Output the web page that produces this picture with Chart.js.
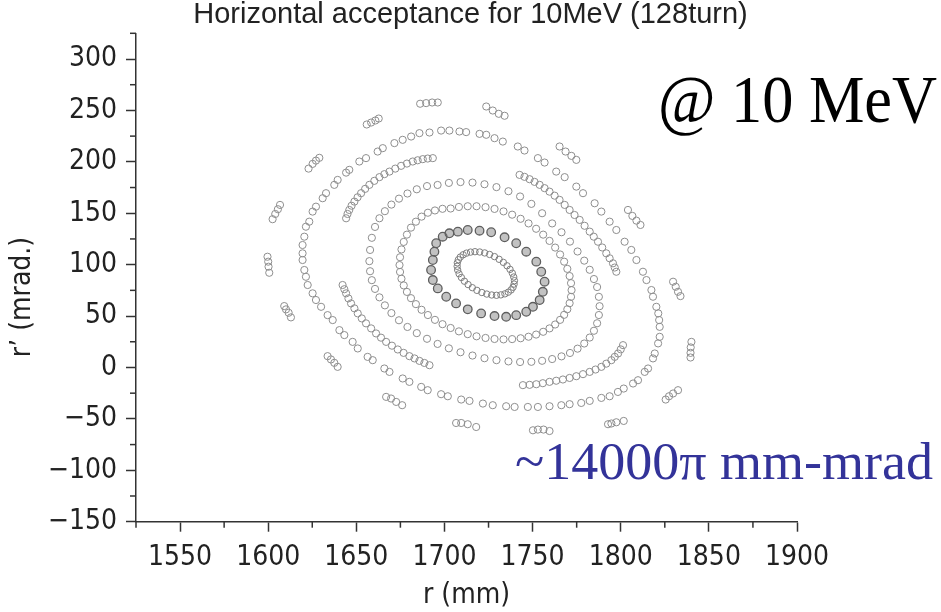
<!DOCTYPE html>
<html>
<head>
<meta charset="utf-8">
<title>Horizontal acceptance for 10MeV</title>
<script src="https://cdn.jsdelivr.net/npm/chart.js@4.4.1/dist/chart.umd.min.js"></script>
<style>
  html, body { margin: 0; padding: 0; background: #fff; }
  canvas { display: block; }
</style>
</head>
<body>
<canvas id="acceptance" width="941" height="612"></canvas>
<script>
// phase-space points: [r (mm), r' (mrad)]
const innerRing = [
  [1739.3,88.0],[1738.5,91.7],[1737.2,95.4],[1735.5,98.9],[1733.4,102.2],[1731.0,105.2],
  [1728.4,107.8],[1725.6,109.9],[1722.8,111.4],[1720.0,112.3],[1717.3,112.6],[1714.8,112.2],
  [1712.5,111.2],[1710.6,109.6],[1709.0,107.4],[1707.9,104.8],[1707.3,101.8],[1707.2,98.4],
  [1707.5,94.8],[1708.3,91.1],[1709.6,87.5],[1711.3,83.9],[1713.4,80.6],[1715.8,77.6],
  [1718.4,75.0],[1721.2,72.9],[1724.0,71.4],[1726.8,70.5],[1729.5,70.2],[1732.0,70.6],
  [1734.3,71.6],[1736.2,73.2],[1737.8,75.4],[1738.9,78.0],[1739.5,81.1],[1739.7,84.4]
];

const secondRing = [
  [1695.3,120.8],[1699.0,127.2],[1702.8,130.5],[1707.6,132.1],[1713.2,133.7],[1719.9,133.0],
  [1726.5,131.5],[1734.1,126.6],[1740.7,120.8],[1746.4,112.6],[1752.1,102.9],[1754.9,93.1],
  [1756.8,83.4],[1755.8,73.6],[1754.0,65.5],[1750.2,59.0],[1746.4,54.2],[1740.7,50.9],
  [1735.0,49.3],[1728.4,50.0],[1720.8,52.6],[1713.2,56.5],[1706.6,62.3],[1701.0,68.8],
  [1696.2,76.9],[1693.4,85.0],[1692.4,94.8],[1693.4,104.5],[1694.3,112.6]
];

const thirdRing = [
  [1772.1,75.2],[1771.8,82.0],[1771.0,88.9],[1769.7,95.9],[1767.9,102.9],[1765.6,109.9],
  [1762.8,116.6],[1759.6,123.1],[1756.0,129.2],[1752.0,134.9],[1747.7,140.1],[1743.2,144.6],
  [1738.4,148.6],[1733.5,151.8],[1728.4,154.2],[1723.3,155.9],[1718.2,156.8],[1713.2,156.8],
  [1708.2,156.1],[1703.5,154.6],[1698.9,154.3],[1694.6,152.7],[1690.6,150.5],[1687.0,146.7],
  [1683.8,141.8],[1681.0,136.0],[1678.7,129.2],[1676.9,122.1],[1675.6,114.8],[1674.8,107.2],
  [1674.5,99.6],[1674.8,92.9],[1675.6,86.3],[1676.9,79.8],[1678.7,73.5],[1681.0,67.4],
  [1683.8,61.6],[1687.0,56.1],[1690.6,51.0],[1694.6,46.3],[1698.9,42.1],[1703.5,38.4],
  [1708.2,35.1],[1713.2,32.4],[1718.2,30.3],[1723.3,28.7],[1728.4,27.7],[1733.5,27.3],
  [1738.4,27.6],[1743.2,28.4],[1747.7,29.9],[1752.0,32.0],[1756.0,34.7],[1759.6,38.0],
  [1762.8,41.8],[1765.6,46.3],[1767.9,51.2],[1769.7,56.6],[1771.0,62.5],[1771.8,68.7]
];

const fourthRing = [
  [1788.0,59.6],[1787.6,68.7],[1786.6,78.2],[1784.8,86.0],[1782.4,95.0],[1779.3,103.9],
  [1775.5,112.8],[1771.2,122.4],[1766.4,131.5],[1761.1,140.1],[1755.4,150.0],[1749.3,159.1],
  [1742.9,166.3],[1736.3,171.4],[1729.5,175.4],[1722.7,178.2],[1715.9,179.8],[1709.1,180.3],
  [1702.5,179.5],[1696.1,177.5],[1690.1,176.4],[1684.3,173.3],[1679.0,169.2],[1674.2,164.2],
  [1669.9,158.4],[1666.2,152.0],[1663.1,145.1],[1660.6,136.7],[1658.8,126.1],[1657.8,114.3],
  [1657.4,103.4],[1657.8,93.6],[1658.8,84.9],[1660.6,76.4],[1663.1,68.2],[1666.2,60.4],
  [1669.9,52.9],[1674.2,45.9],[1679.0,39.4],[1684.3,33.4],[1690.1,27.9],[1696.1,22.9],
  [1702.5,18.6],[1709.1,14.8],[1715.9,11.6],[1722.7,9.0],[1729.5,7.1],[1736.3,5.9],
  [1742.9,5.3],[1749.3,5.5],[1755.4,6.5],[1761.1,8.2],[1766.4,10.8],[1771.2,14.1],
  [1775.5,18.3],[1779.3,23.3],[1782.4,29.1],[1784.8,35.7],[1786.6,43.0],[1787.6,51.0]
];

// the four dense arcs of the fifth ring
const arcUpperLeft = [
  [1644.2,145.1],[1645.0,149.3],[1646.0,153.2],[1647.3,157.3],[1648.9,161.3],[1650.7,165.5],
  [1652.7,169.5],[1655.0,173.7],[1657.4,177.6],[1660.2,181.5],[1663.1,185.1],[1665.9,188.0],
  [1668.8,190.5],[1672.1,193.4],[1675.4,196.1],[1678.7,198.3],[1682.0,200.3],[1684.8,201.5],
  [1687.7,202.6],[1690.5,203.2],[1693.4,203.6]
];
const arcUpperRight = [
  [1742.6,187.3],[1745.4,185.4],[1748.3,183.1],[1751.1,180.5],[1754.0,177.6],[1756.8,174.4],
  [1759.6,171.0],[1762.5,167.1],[1765.3,163.0],[1768.2,158.1],[1771.0,153.2],[1773.8,148.3],
  [1776.7,143.5],[1779.5,137.8],[1782.4,132.1],[1784.7,127.2],[1787.1,122.3],[1789.5,116.7],
  [1791.8,111.0],[1793.7,106.2],[1795.6,101.3],[1796.6,97.2],[1797.5,93.1]
];
const arcLowerLeft = [
  [1642.2,80.2],[1643.2,76.1],[1644.2,72.1],[1645.5,67.2],[1647.0,62.3],[1648.9,57.5],
  [1650.8,52.6],[1653.1,47.7],[1655.5,42.9],[1658.4,38.0],[1661.2,33.1],[1664.0,29.0],
  [1666.9,24.9],[1670.2,21.2],[1673.5,17.5],[1676.8,14.2],[1680.1,11.0],[1683.0,8.8],
  [1685.8,6.4],[1688.6,4.4],[1691.5,2.2]
];
const arcLowerRight = [
  [1744.5,-17.2],[1748.3,-16.9],[1752.1,-16.3],[1755.8,-15.3],[1759.6,-14.0],[1763.4,-12.9],
  [1767.2,-11.7],[1771.0,-10.2],[1774.8,-8.5],[1778.6,-6.5],[1782.4,-4.3],[1785.7,-2.0],
  [1789.0,0.6],[1791.8,3.7],[1794.7,7.1],[1796.6,10.3],[1798.5,13.6],[1800.0,17.6],
  [1801.3,21.7]
];

const outerRing = [
  [1723.7,226.3],[1719.9,227.2],[1712.3,228.9],[1708.5,229.5],[1702.8,230.4],[1698.1,230.4],
  [1691.5,228.5],[1685.8,227.9],[1681.1,224.6],[1676.3,221.4],[1671.6,218.2],[1665.0,213.3],
  [1662.1,210.0],[1655.5,203.6],[1651.7,200.3],[1646.0,192.2],[1644.2,189.5],[1639.4,182.4],
  [1637.5,177.6],[1632.8,169.5],[1630.9,164.6],[1627.1,156.4],[1625.2,151.6],[1623.3,141.8],
  [1621.4,136.9],[1620.5,127.2],[1619.5,119.1],[1619.5,111.0],[1619.5,104.5],[1620.5,94.8],
  [1621.4,88.2],[1622.4,80.2],[1625.2,72.1],[1627.1,65.6],[1630.0,59.0],[1633.7,50.9],
  [1636.6,46.1],[1640.4,36.3],[1643.2,31.5],[1647.9,24.9],[1650.8,18.5],[1656.4,10.3],
  [1659.3,7.1],[1665.9,-1.0],[1668.8,-4.3],[1676.3,-10.7],[1680.1,-14.0],[1686.8,-18.9],
  [1690.5,-22.1],[1698.1,-26.0],[1701.9,-28.0],[1709.5,-31.2],[1714.2,-32.5],[1721.8,-35.1],
  [1727.4,-36.7],[1735.0,-37.7],[1739.8,-38.4],[1747.3,-38.4],[1753.0,-38.4],[1759.6,-37.7],
  [1766.3,-36.7],[1771.0,-35.7],[1777.6,-34.5],[1782.4,-32.5],[1789.0,-29.6],[1793.7,-28.0],
  [1798.4,-23.8],[1801.7,-20.5],[1807.0,-15.6],[1809.8,-12.4],[1813.6,-4.3],[1815.5,-1.0],
  [1818.3,8.8],[1819.3,13.6],[1821.2,23.4],[1822.1,29.8],[1822.1,39.5],[1821.8,46.1],
  [1821.3,52.6],[1820.2,59.0],[1818.3,68.8],[1817.4,75.3],[1814.6,85.0],[1812.6,93.1],
  [1808.9,104.5],[1806.0,114.3],[1802.2,122.3],[1797.5,133.7],[1793.7,141.8],[1789.0,151.6],
  [1785.2,159.7],[1778.6,169.5],[1774.8,175.9],[1768.2,185.1],[1763.4,190.5],[1756.8,199.3],
  [1753.0,203.6],[1745.4,211.0],[1741.6,214.9],[1733.1,219.7],[1728.4,223.0]
];

// islands outside the last closed ring
const islands = [
  [1686.2,256.5],[1689.6,257.1],[1693.0,257.7],[1696.2,257.7],
  [1655.9,236.3],[1658.4,238.2],[1660.8,240.2],[1662.7,242.1],
  [1622.9,193.4],[1625.2,198.0],[1627.1,201.2],[1629.0,203.9],
  [1602.5,144.2],[1604.0,149.3],[1605.5,153.9],[1606.7,158.1],
  [1599.6,107.7],[1600.0,102.9],[1600.2,98.0],[1600.6,92.1],
  [1609.1,59.7],[1610.1,56.5],[1611.6,53.2],[1612.9,48.7],
  [1633.7,11.0],[1635.6,7.8],[1637.5,4.5],[1639.4,0.6],
  [1666.9,-28.6],[1669.7,-30.2],[1672.6,-33.5],[1676.0,-36.7],
  [1706.6,-54.0],[1709.5,-54.0],[1713.2,-55.2],[1718.0,-57.9],
  [1750.2,-61.1],[1753.0,-60.4],[1756.2,-60.4],[1759.6,-61.8],
  [1792.8,-55.2],[1794.7,-54.5],[1797.5,-53.3],[1801.7,-52.0],
  [1825.5,-31.2],[1827.4,-28.0],[1829.7,-25.3],[1832.5,-22.1],
  [1839.6,9.7],[1839.6,14.2],[1839.7,19.5],[1840.1,24.9],
  [1829.7,83.4],[1831.2,78.5],[1832.5,73.6],[1833.9,69.4],
  [1804.1,153.2],[1806.6,147.4],[1808.9,142.8],[1811.2,138.6],
  [1765.3,214.9],[1768.7,210.0],[1772.0,205.8],[1774.8,201.9],
  [1723.7,253.8],[1727.4,249.9],[1730.8,246.7],[1734.1,244.8]
];

const xLimits = [1525, 1900];
const yLimits = [-150, 325];
const tickStep = 25;
const labelStep = 50;

const narrowFont = '"Liberation Sans Narrow", "DejaVu Sans Condensed", "Arial Narrow", sans-serif';
const ringColor = '#8e8e8e';

function toPoints(list) {
  return list.map(p => ({ x: p[0], y: p[1] }));
}

function ringSet(label, list, extra) {
  return Object.assign({
    label: label,
    data: toPoints(list),
    pointStyle: 'circle',
    pointRadius: 3.6,
    pointBorderWidth: 1,
    pointBorderColor: ringColor,
    pointBackgroundColor: 'rgba(255,255,255,0)',
    showLine: false
  }, extra || {});
}

function isMajor(v) {
  return Math.abs(v % labelStep) < 1e-6;
}

// shorter ticks at the 25-unit steps
const minorTicks = {
  id: 'minorTicks',
  afterDraw(chart) {
    const c = chart.ctx;
    const xs = chart.scales.x;
    const ys = chart.scales.y;
    const area = chart.chartArea;
    c.save();
    c.strokeStyle = '#333';
    c.lineWidth = 1.5;
    xs.ticks.forEach(t => {
      if (isMajor(t.value)) return;
      const px = xs.getPixelForValue(t.value);
      c.beginPath();
      c.moveTo(px, area.bottom);
      c.lineTo(px, area.bottom + 6);
      c.stroke();
    });
    ys.ticks.forEach(t => {
      if (isMajor(t.value)) return;
      const py = ys.getPixelForValue(t.value);
      c.beginPath();
      c.moveTo(area.left - 6, py);
      c.lineTo(area.left, py);
      c.stroke();
    });
    c.restore();
  }
};

function drawFitted(c, text, x, y, width, font, color) {
  c.save();
  c.font = font;
  const w = c.measureText(text).width;
  c.translate(x, y);
  c.scale(width / w, 1);
  c.fillStyle = color;
  c.textBaseline = 'alphabetic';
  c.textAlign = 'left';
  c.fillText(text, 0, 0);
  c.restore();
}

const notes = {
  id: 'notes',
  afterDraw(chart) {
    const c = chart.ctx;
    // y-axis title sits a little below the middle of the axis
    c.save();
    c.translate(23, 297);
    c.rotate(-Math.PI / 2);
    c.font = '28px ' + narrowFont;
    c.fillStyle = '#222';
    c.textAlign = 'center';
    c.textBaseline = 'middle';
    c.fillText('r\u2019 (mrad.)', 0, 0);
    c.restore();

    drawFitted(c, '@ 10 MeV', 658, 121.5, 279,
      '68px "Liberation Serif", "Times New Roman", serif', '#000');
    drawFitted(c, '~14000\u03c0 mm-mrad', 515, 479, 418,
      '53px "Liberation Serif", "Times New Roman", serif', '#333399');
  }
};

function axisOptions(limits, fit) {
  return {
    type: 'linear',
    min: limits[0],
    max: limits[1],
    afterFit: fit,
    border: { display: true, color: '#333', width: 1.5 },
    grid: {
      drawOnChartArea: false,
      drawTicks: true,
      tickLength: 10,
      tickWidth: 1.5,
      tickColor: ctx => (ctx.tick && isMajor(ctx.tick.value)) ? '#333' : 'rgba(0,0,0,0)'
    },
    ticks: {
      stepSize: tickStep,
      autoSkip: false,
      maxRotation: 0,
      minRotation: 0,
      maxTicksLimit: 100,
      padding: 9,
      color: '#222',
      font: { family: narrowFont, size: 28 },
      callback: v => isMajor(v) ? String(Math.round(v)).replace('-', '\u2212') : ''
    }
  };
}

Chart.defaults.devicePixelRatio = 1;

const xAxis = axisOptions(xLimits, s => { s.height = 90.3; });
xAxis.title = {
  display: true,
  text: 'r (mm)',
  color: '#222',
  font: { family: narrowFont, size: 28, lineHeight: 1 },
  padding: { top: 0, bottom: 2 }
};

new Chart(document.getElementById('acceptance'), {
  type: 'scatter',
  data: {
    datasets: [
      ringSet('islands', islands),
      ringSet('outer ring', outerRing),
      ringSet('arc upper left', arcUpperLeft),
      ringSet('arc upper right', arcUpperRight),
      ringSet('arc lower left', arcLowerLeft),
      ringSet('arc lower right', arcLowerRight),
      ringSet('ring 4', fourthRing),
      ringSet('ring 3', thirdRing),
      ringSet('ring 2', secondRing, {
        pointRadius: 4.3,
        pointBorderWidth: 1.3,
        pointBorderColor: '#5e5e5e',
        pointBackgroundColor: 'rgba(120,120,120,0.45)'
      }),
      ringSet('ring 1', innerRing, { pointRadius: 3.2, pointBorderColor: '#7e7e7e' })
    ]
  },
  options: {
    responsive: false,
    animation: false,
    devicePixelRatio: 1,
    layout: { padding: 0 },
    plugins: {
      legend: { display: false },
      tooltip: { enabled: false },
      title: {
        display: true,
        text: 'Horizontal acceptance for 10MeV (128turn)',
        color: '#222',
        font: { family: '"Liberation Sans", Arial, sans-serif', size: 29, weight: 'normal', lineHeight: 1 },
        padding: { top: 0, bottom: 4.3 }
      }
    },
    scales: {
      x: xAxis,
      y: axisOptions(yLimits, s => { s.width = 136; }),
      // empty right-hand strip so the plot ends at 1900 where the reference does
      spacer: {
        type: 'linear',
        position: 'right',
        display: true,
        afterFit: s => { s.width = 144; },
        border: { display: false },
        grid: { display: false },
        ticks: { display: false }
      }
    }
  },
  plugins: [minorTicks, notes]
});
</script>
</body>
</html>
